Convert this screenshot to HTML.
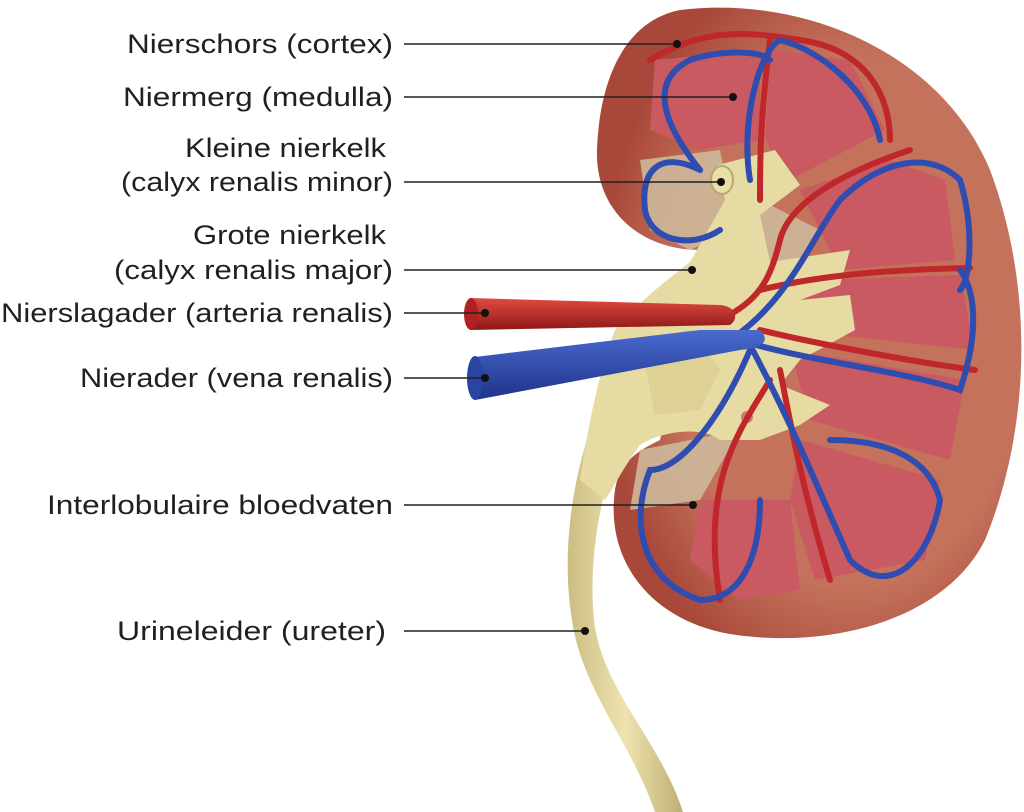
<!DOCTYPE html>
<html><head><meta charset="utf-8"><style>
html,body{margin:0;padding:0;background:#fff;}
svg{display:block;}
text{font-family:"Liberation Sans",sans-serif;font-size:27px;fill:#231f20;}
</style></head><body>
<svg width="1024" height="812" viewBox="0 0 1024 812" xmlns="http://www.w3.org/2000/svg">
<defs>
<radialGradient id="cx" cx="0.6" cy="0.5" r="0.6">
<stop offset="0.7" stop-color="#c4725c"/><stop offset="1" stop-color="#a8483a"/>
</radialGradient>
<linearGradient id="ur" x1="0" x2="1"><stop offset="0" stop-color="#cbbd82"/><stop offset="0.5" stop-color="#eee3b0"/><stop offset="1" stop-color="#bfae72"/></linearGradient>
<linearGradient id="ar" x1="0" y1="0" x2="0" y2="1"><stop offset="0" stop-color="#e04b40"/><stop offset="1" stop-color="#8f1818"/></linearGradient>
<linearGradient id="vn" x1="0" y1="0" x2="0" y2="1"><stop offset="0" stop-color="#4a6ad0"/><stop offset="1" stop-color="#1f338a"/></linearGradient>
</defs>
<!-- ureter -->
<path d="M590 430 C570 490 562 560 572 620 C582 690 630 740 655 812 L683 812 C660 740 602 690 594 620 C588 560 600 490 625 430 Z" fill="url(#ur)"/>
<!-- kidney outer -->
<path d="M680 10 C800 -5 940 50 990 170 C1035 290 1030 430 985 540 C945 620 830 650 730 634 C650 620 605 560 615 490 C620 460 640 450 660 440 L700 250 C640 250 595 210 597 150 C600 70 630 20 680 10 Z" fill="url(#cx)"/>
<!-- medulla pyramids -->
<g fill="#c95a62">
<path d="M655 60 L760 50 L760 140 L700 150 L650 130 Z"/>
<path d="M770 50 L850 60 L885 130 L790 180 L765 140 Z"/>
<path d="M800 190 L890 160 L945 180 L955 260 L840 270 Z"/>
<path d="M800 280 L960 275 L975 350 L790 330 Z"/>
<path d="M790 350 L965 380 L950 460 L810 420 Z"/>
<path d="M800 440 L940 480 L925 560 L815 580 L790 500 Z"/>
<path d="M700 500 L790 500 L800 590 L740 600 L690 560 Z"/>
</g>
<g fill="#cdb89a" opacity="0.9">
<path d="M640 160 L720 150 L735 230 L690 250 L650 230 Z"/>
<path d="M640 450 L740 430 L700 500 L630 510 Z"/>
<path d="M760 200 L820 230 L790 290 L760 270 Z"/>
</g>
<!-- pelvis -->
<path d="M690 262 L725 200 L718 165 L775 150 L800 185 L760 215 L770 262 L850 250 L840 285 L800 300 L850 295 L855 330 L800 360 L780 385 L830 405 L800 425 L760 440 L720 440 C700 425 660 432 640 445 C625 465 615 485 605 500 L580 480 C586 440 596 380 615 330 C640 300 665 282 690 262 Z" fill="#e7dba4"/>
<path d="M640 340 L690 330 L720 370 L700 410 L655 415 Z" fill="#d8c98d" opacity="0.6"/>
<circle cx="747" cy="417" r="6" fill="#d27a7a"/>
<!-- arteries -->
<g fill="none" stroke="#c0272a" stroke-width="6" stroke-linecap="round">
<path d="M720 320 C760 300 770 280 780 240 C790 200 850 170 910 150"/>
<path d="M760 290 C800 280 860 270 970 268"/>
<path d="M760 200 C760 160 760 120 770 40"/>
<path d="M760 330 C800 340 900 360 975 370"/>
<path d="M780 370 C790 420 800 480 830 580"/>
<path d="M770 380 C740 430 700 480 720 600"/>
<path d="M650 60 C700 30 740 30 800 40 C870 50 890 100 890 140"/>
</g>
<!-- veins -->
<g fill="none" stroke="#2f4cb0" stroke-width="6" stroke-linecap="round">
<path d="M730 340 C790 300 810 240 840 200 C880 160 930 150 960 180 C975 230 970 280 960 290"/>
<path d="M740 340 C800 360 900 370 960 390 C980 330 975 290 960 270"/>
<path d="M750 345 C790 420 810 470 850 560 C890 600 930 560 940 500 C930 460 890 440 830 440"/>
<path d="M750 350 C720 420 680 470 650 470 C630 520 640 580 700 600 C740 600 760 560 760 500"/>
<path d="M750 180 C740 120 760 50 780 40 C820 50 870 90 880 140"/>
<path d="M700 170 C660 150 640 170 645 210 C650 240 690 250 720 230"/>
<path d="M700 170 C660 120 650 80 690 60 C720 50 760 50 770 60"/>
</g>
<!-- renal artery -->
<path d="M470 298 L720 305 C735 306 740 318 730 325 L470 330 Z" fill="url(#ar)"/>
<ellipse cx="471" cy="314" rx="7" ry="16" fill="#b32024"/>
<!-- renal vein -->
<path d="M475 357 L700 330 L760 330 C770 340 765 348 740 350 L475 400 Z" fill="url(#vn)"/>
<ellipse cx="475" cy="378" rx="8" ry="22" fill="#2a44a4"/>
<!-- small calyx -->
<ellipse cx="722" cy="180" rx="11" ry="14" fill="#e9dfa8" stroke="#b8a870" stroke-width="2"/>
<!-- labels -->
<g>
<text x="127" y="53" textLength="266" lengthAdjust="spacingAndGlyphs">Nierschors (cortex)</text>
<text x="123" y="106" textLength="270" lengthAdjust="spacingAndGlyphs">Niermerg (medulla)</text>
<text x="185" y="157" textLength="201" lengthAdjust="spacingAndGlyphs">Kleine nierkelk</text>
<text x="121" y="191" textLength="272" lengthAdjust="spacingAndGlyphs">(calyx renalis minor)</text>
<text x="193" y="244" textLength="193" lengthAdjust="spacingAndGlyphs">Grote nierkelk</text>
<text x="114" y="279" textLength="279" lengthAdjust="spacingAndGlyphs">(calyx renalis major)</text>
<text x="1" y="322" textLength="392" lengthAdjust="spacingAndGlyphs">Nierslagader (arteria renalis)</text>
<text x="80" y="387" textLength="313" lengthAdjust="spacingAndGlyphs">Nierader (vena renalis)</text>
<text x="47" y="514" textLength="346" lengthAdjust="spacingAndGlyphs">Interlobulaire bloedvaten</text>
<text x="117" y="640" textLength="269" lengthAdjust="spacingAndGlyphs">Urineleider (ureter)</text>
</g>
<g stroke="#231f20" stroke-width="1.5">
<line x1="404" y1="44" x2="677" y2="44"/>
<line x1="404" y1="97" x2="733" y2="97"/>
<line x1="404" y1="182" x2="720" y2="182"/>
<line x1="404" y1="270" x2="692" y2="270"/>
<line x1="404" y1="313" x2="485" y2="313"/>
<line x1="404" y1="378" x2="485" y2="378"/>
<line x1="404" y1="505" x2="693" y2="505"/>
<line x1="404" y1="631" x2="585" y2="631"/>
</g>
<g fill="#111">
<circle cx="677" cy="44" r="4"/><circle cx="733" cy="97" r="4"/><circle cx="721" cy="182" r="4"/>
<circle cx="692" cy="270" r="4"/><circle cx="485" cy="313" r="4"/><circle cx="485" cy="378" r="4"/>
<circle cx="693" cy="505" r="4"/><circle cx="585" cy="631" r="4"/>
</g>
</svg>
</body></html>
